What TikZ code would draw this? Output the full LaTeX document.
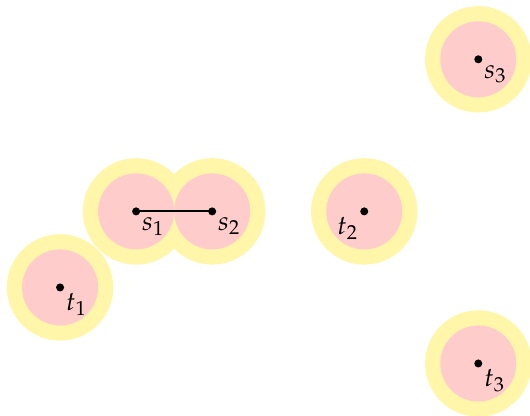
\documentclass[tikz,border=0pt]{standalone}
\usepackage{mathpazo}
\usetikzlibrary{positioning}
\definecolor{haloyellow}{RGB}{255,246,170}
\definecolor{corepink}{RGB}{255,204,204}
\tikzset{
  halo/.style={fill=haloyellow},
  core/.style={fill=corepink},
  terminal/.style={circle, fill=black, minimum size=3pt, inner sep=0pt},
  tag/.style={inner sep=0.8pt},
  wire/.style={thick}
}

\begin{document}
\begin{tikzpicture}

  \useasboundingbox (-1.79,-2.68) rectangle (5.18,2.78);

  \coordinate (s1) at (0,0);
  \coordinate (s2) at (1,0);
  \coordinate (t1) at (-1,-1);
  \coordinate (t2) at (3,0);
  \coordinate (s3) at (4.5,2);
  \coordinate (t3) at (4.5,-2);

  % outer discs first, inner discs on top
  \foreach \p in {s1,s2,t1,t2,s3,t3}
    \fill [halo] (\p) circle (0.7);
  \foreach \p in {s1,s2,t1,t2,s3,t3}
    \fill [core] (\p) circle (0.5);

  \draw [wire] (s1) -- (s2);

  \node (s1dot) [terminal, label={[tag]-45:$s_1$}] at (s1) {};
  \node (s2dot) [terminal, label={[tag]-45:$s_2$}] at (s2) {};
  \node (t1dot) [terminal, label={[tag]-45:$t_1$}] at (t1) {};
  \node (t2dot) [terminal, label={[tag]-135:$t_2$}] at (t2) {};
  \node (s3dot) [terminal, label={[tag]-45:$s_3$}] at (s3) {};
  \node (t3dot) [terminal, label={[tag]-45:$t_3$}] at (t3) {};

\end{tikzpicture}
\end{document}
